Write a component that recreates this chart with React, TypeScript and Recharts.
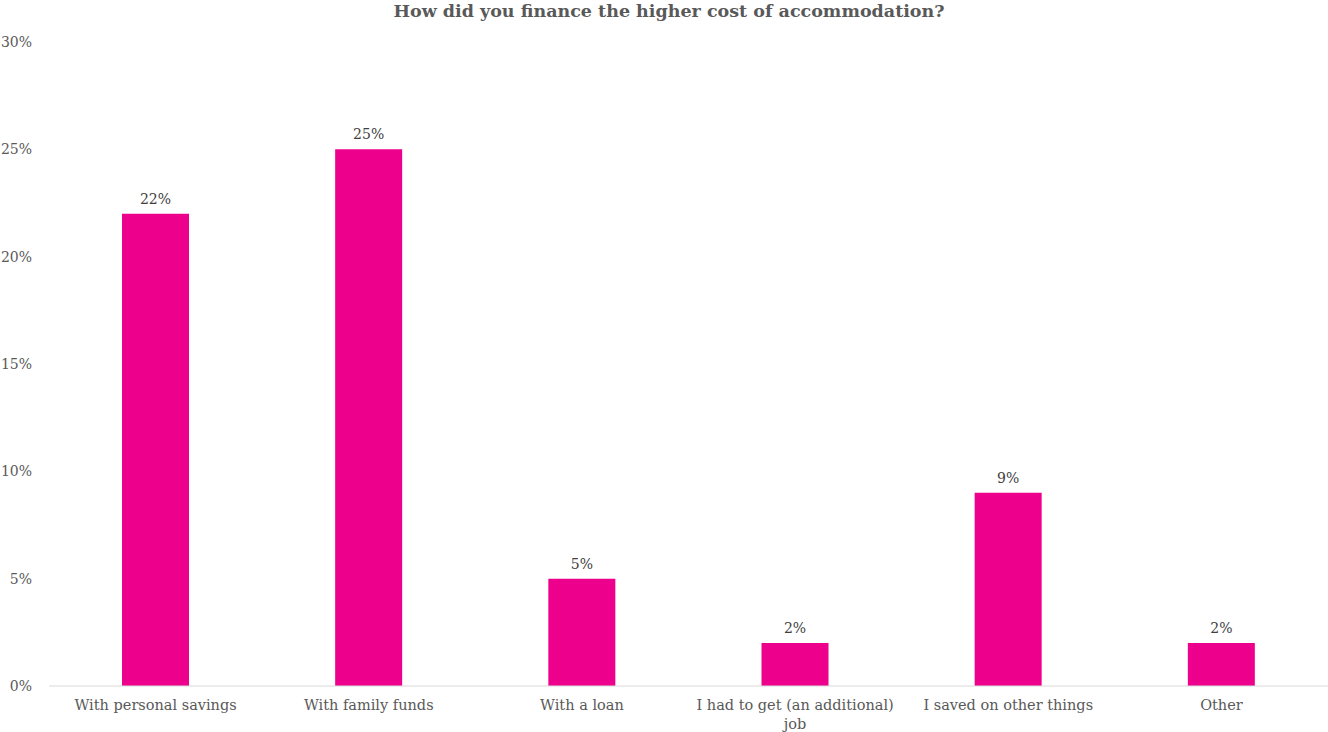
import React from "react";
import { BarChart, Bar, XAxis, YAxis, LabelList, Text } from "recharts";

const categories = [
  "With personal savings",
  "With family funds",
  "With a loan",
  "I had to get (an additional) job",
  "I saved on other things",
  "Other",
];
const shares = [22, 25, 5, 2, 9, 2];
const yTicks = [0, 5, 10, 15, 20, 25, 30];

const data = categories.map((name, i) => ({ name, value: shares[i] }));

const FONT = "'DejaVu Serif', serif";
const GREY = "#595959";

const CategoryTick = (props: any) => {
  const { x, y, payload } = props;
  return (
    <Text
      x={x}
      y={y}
      width={220}
      textAnchor="middle"
      verticalAnchor="start"
      fill={GREY}
      style={{ fontSize: 14.5, fontFamily: FONT }}
      lineHeight={19}
    >
      {payload.value}
    </Text>
  );
};

export default function App() {
  return (
    <div style={{ position: "absolute", left: 0, top: 0, width: 1328, height: 732, background: "#fff" }}>
      <div
        style={{
          position: "absolute",
          left: 0,
          top: 1,
          width: 1338,
          textAlign: "center",
          fontFamily: FONT,
          fontWeight: "bold",
          fontSize: 17.5,
          color: GREY,
        }}
      >
        How did you finance the higher cost of accommodation?
      </div>
      <BarChart
        width={1328}
        height={732}
        data={data}
        margin={{ top: 42, right: 0, left: 0, bottom: 0 }}
      >
        <XAxis
          dataKey="name"
          interval={0}
          height={46}
          axisLine={{ stroke: "#d9d9d9" }}
          tickLine={false}
          tickSize={0}
          tickMargin={14}
          tick={<CategoryTick />}
        />
        <YAxis
          width={49}
          domain={[0, 30]}
          ticks={yTicks}
          axisLine={false}
          tickLine={false}
          tickSize={0}
          tickMargin={17}
          tickFormatter={(v: number) => `${v}%`}
          tick={{ fill: GREY, fontSize: 14, fontFamily: FONT }}
        />
        <Bar dataKey="value" fill="#EC008C" barSize={67} isAnimationActive={false}>
          <LabelList
            dataKey="value"
            position="top"
            offset={10}
            formatter={(v: any) => `${v}%`}
            fill="#404040"
            fontSize={14}
            fontFamily={FONT}
          />
        </Bar>
      </BarChart>
    </div>
  );
}
